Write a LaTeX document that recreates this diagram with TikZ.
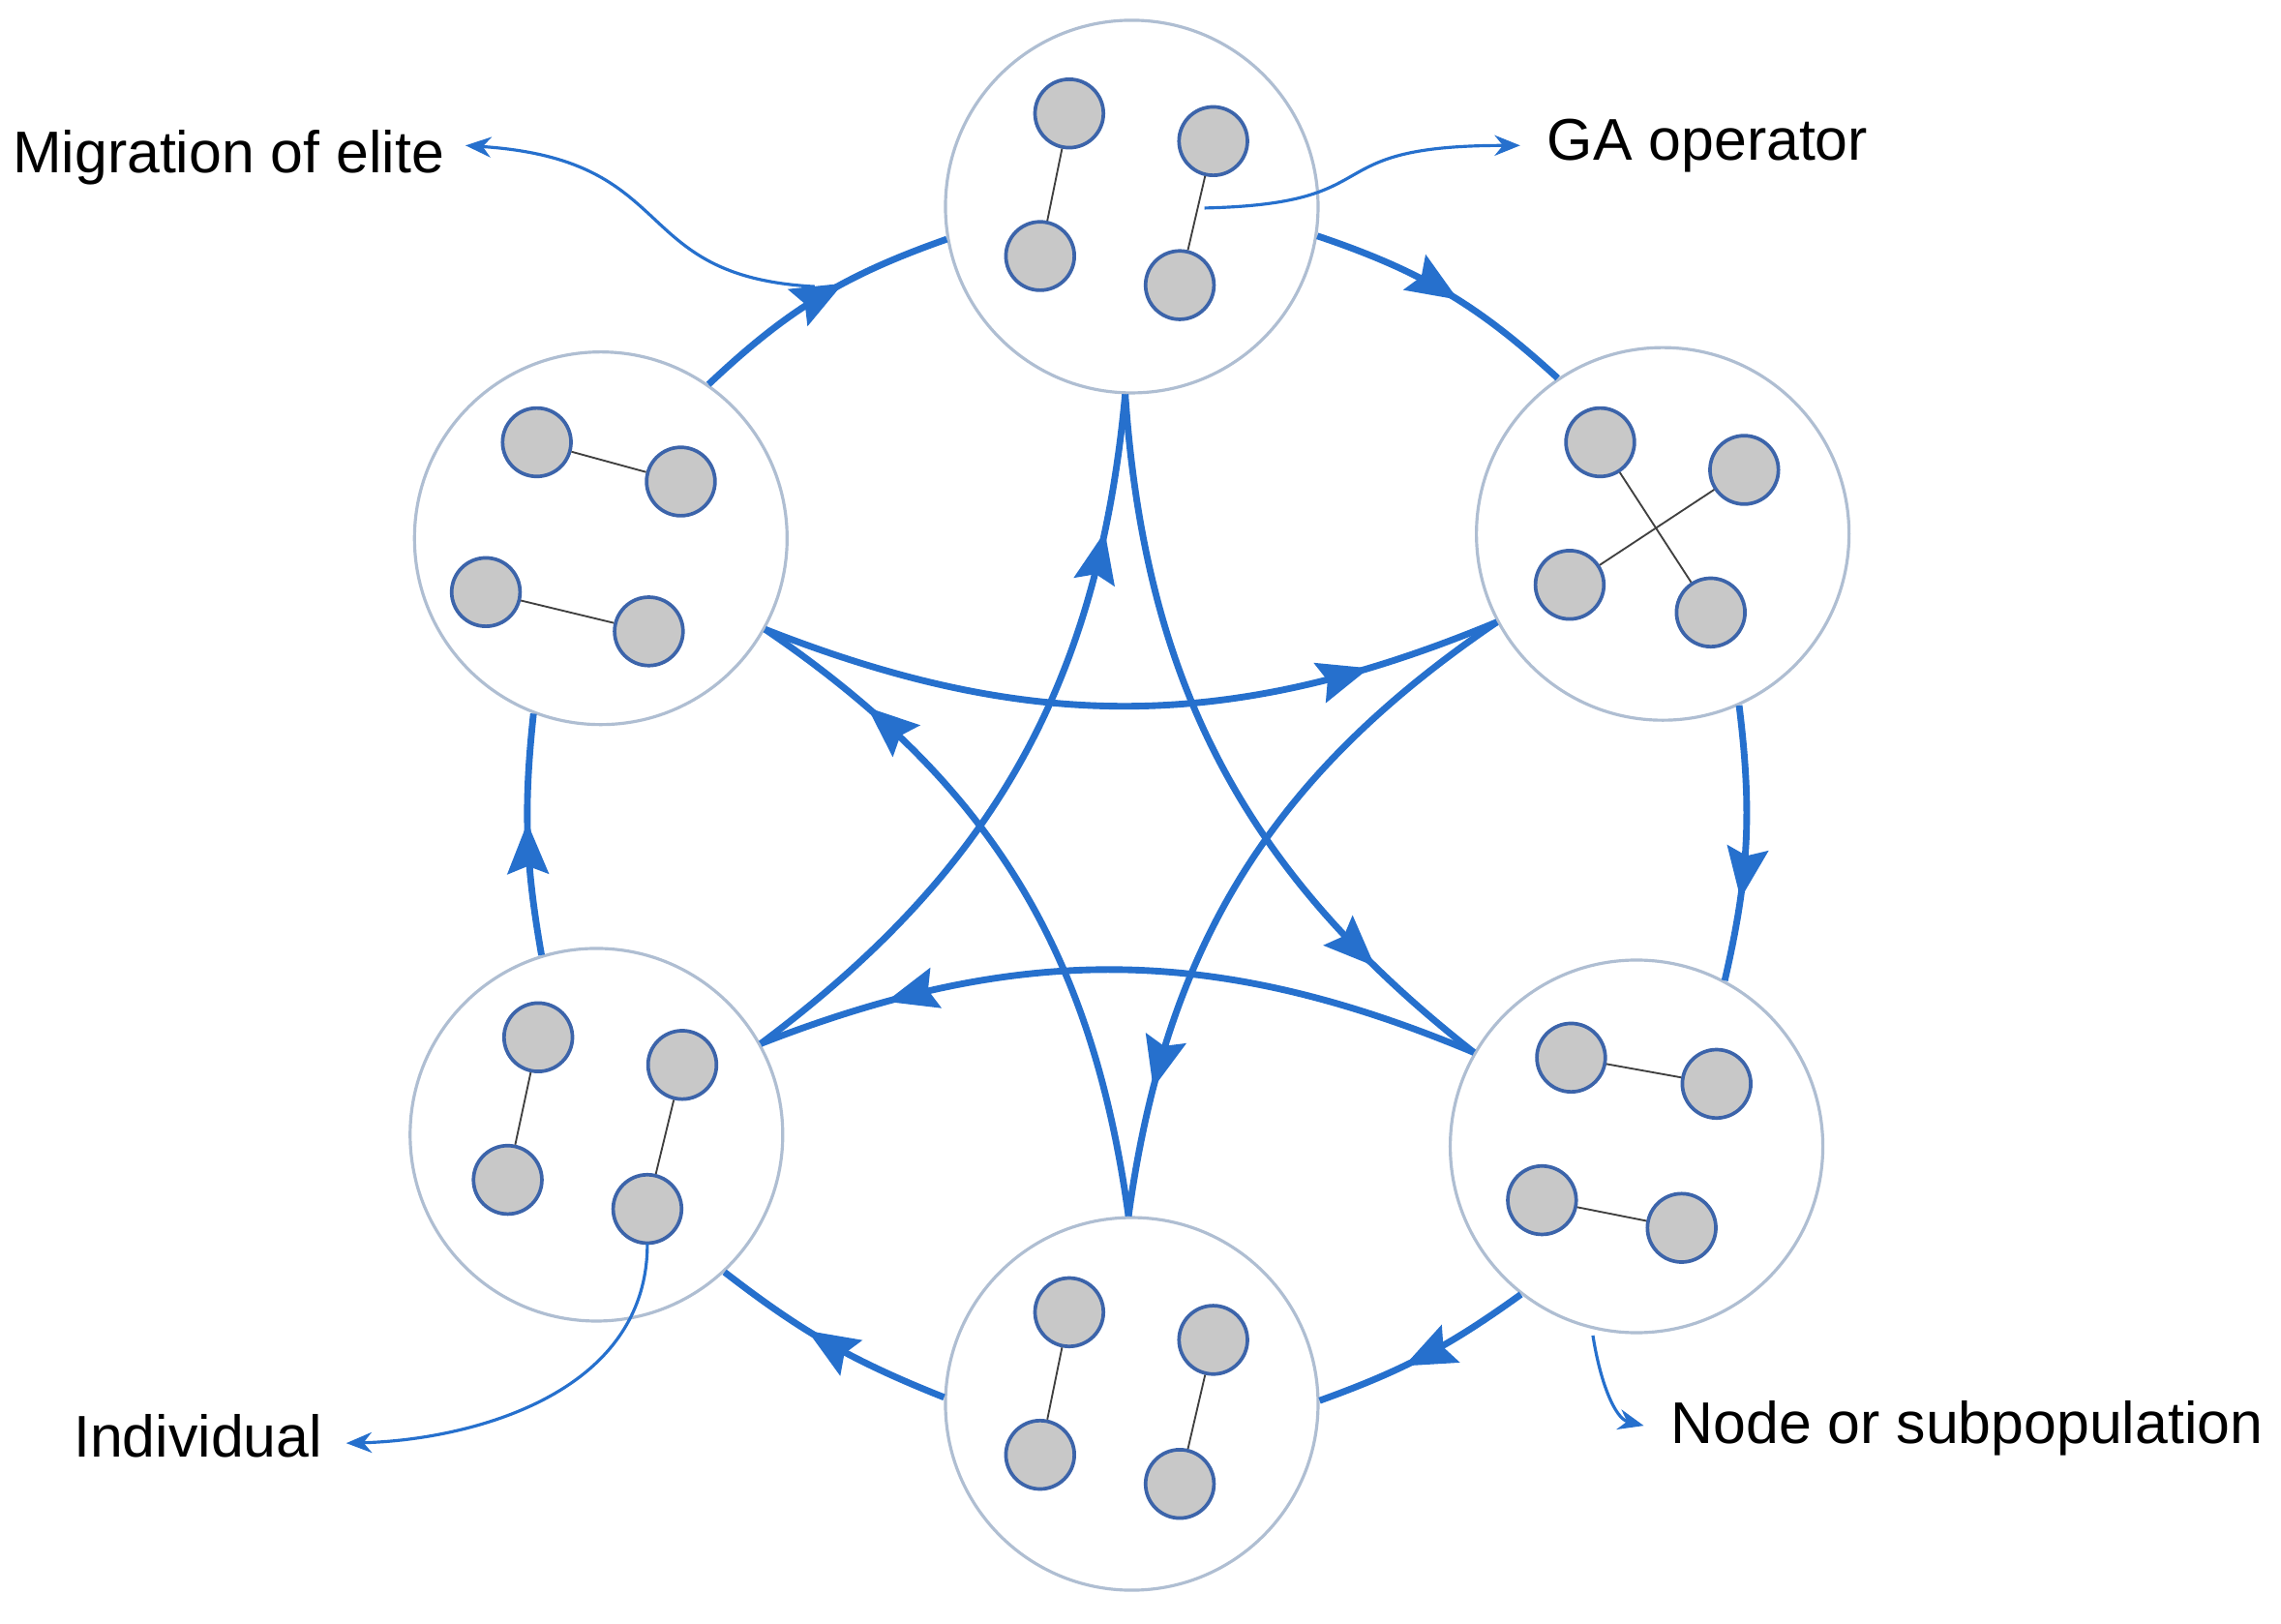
\documentclass[tikz,border=0pt]{standalone}
\usepackage{fontspec}
\setmainfont{Liberation Sans}
\usetikzlibrary{arrows.meta,decorations.markings}
\definecolor{flow}{RGB}{38,112,205}
\definecolor{ring}{RGB}{175,190,210}
\definecolor{ind}{RGB}{200,200,200}
\definecolor{indb}{RGB}{60,100,170}
\begin{document}
\begin{tikzpicture}[x=0.01cm,y=-0.01cm,
  pop/.style={circle,draw=ring,line width=0.6pt,fill=white,minimum size=2.56cm,inner sep=0},
  ind/.style={circle,draw=indb,line width=0.7pt,fill=ind,minimum size=0.47cm,inner sep=0},
  link/.style={draw=black!75,line width=0.35pt},
  flow/.style={draw=flow,line width=1.3pt,postaction={decorate},
    decoration={markings,mark=at position #1 with {\arrow{Stealth[length=10pt,width=8pt,inset=1.5pt]}}}},
  flow/.default=0.55,
  lab/.style={draw=flow,line width=0.6pt,-{Stealth[length=5pt,width=4pt]}},
  txt/.style={font=\fontsize{11.5}{13}\selectfont,inner sep=0}]
\useasboundingbox (0,0) rectangle (1568,1116);
\fill[white] (0,0) rectangle (1568,1116);
% populations
\node[pop] (n1) at (778,142) {};
\node[pop] (n2) at (1143,367) {};
\node[pop] (n3) at (1125,788) {};
\node[pop] (n4) at (778,965) {};
\node[pop] (n5) at (410,780) {};
\node[pop] (n6) at (413,370) {};
% outer ring
\draw[flow] (n1.-9) to[bend left=12] (n2.124);
\draw[flow=0.7] (n2.-66) to[bend left=10] (n3.62);
\draw[flow=0.6] (n3.232) to[bend left=8] (n4.1);
\draw[flow=0.6] (n4.178) to[bend left=8] (n5.-47);
\draw[flow=0.55] (n5.107) to[bend left=8] (n6.249);
\draw[flow=0.6] (n6.55) to[bend left=12] (n1.190);
% inner star
\draw[flow=0.83] (n1.268) to[bend right=24] (n3.150);
\draw[flow=0.82] (n3.150) to[bend right=22] (n5.29);
\draw[flow=0.82] (n5.29) to[bend right=24] (n1.268);
\draw[flow=0.82] (n6.-29) to[bend right=22] (n2.208);
\draw[flow=0.82] (n2.208) to[bend right=24] (n4.91);
\draw[flow=0.82] (n4.91) to[bend right=24] (n6.-29);
% individuals
\foreach \p/\a/\b/\c/\d in {1/{735,78}/{834,97}/{715,176}/{811,196},
  4/{735,902}/{834,921}/{715,1000}/{811,1020},
  5/{370,713}/{469,732}/{349,811}/{445,831}}{
  \node[ind] (i\p a) at (\a) {}; \node[ind] (i\p b) at (\b) {};
  \node[ind] (i\p c) at (\c) {}; \node[ind] (i\p d) at (\d) {};
  \draw[link] (i\p a) -- (i\p c); \draw[link] (i\p b) -- (i\p d);}
\foreach \p/\a/\b/\c/\d in {3/{1080,727}/{1180,745}/{1060,825}/{1156,844},
  6/{369,304}/{468,331}/{334,407}/{446,434}}{
  \node[ind] (i\p a) at (\a) {}; \node[ind] (i\p b) at (\b) {};
  \node[ind] (i\p c) at (\c) {}; \node[ind] (i\p d) at (\d) {};
  \draw[link] (i\p a) -- (i\p b); \draw[link] (i\p c) -- (i\p d);}
\node[ind] (i2a) at (1100,304) {}; \node[ind] (i2b) at (1199,323) {};
\node[ind] (i2c) at (1079,402) {}; \node[ind] (i2d) at (1176,421) {};
\draw[link] (i2a) -- (i2d); \draw[link] (i2b) -- (i2c);
% labels
\node[txt,anchor=west] (tm) at (8,108) {Migration of elite};
\node[txt,anchor=west] (tg) at (1063,100) {GA operator};
\node[txt,anchor=west] (ti) at (50,987) {Individual};
\node[txt,anchor=west] (tn) at (1148,982) {Node or subpopulation};
\coordinate (cm) at (560,197);
\coordinate (cg) at (828,143);
\coordinate (ci) at (445,855);
\coordinate (cn) at (1095,918);
\draw[lab] (cm) .. controls (430,190) and (470,110) .. (320,100);
\draw[lab] (cg) .. controls (960,140) and (900,100) .. (1045,100);
\draw[lab] (ci) .. controls (445,960) and (320,990) .. (238,992);
\draw[lab] (cn) .. controls (1100,950) and (1110,975) .. (1130,980);
\end{tikzpicture}
\end{document}
